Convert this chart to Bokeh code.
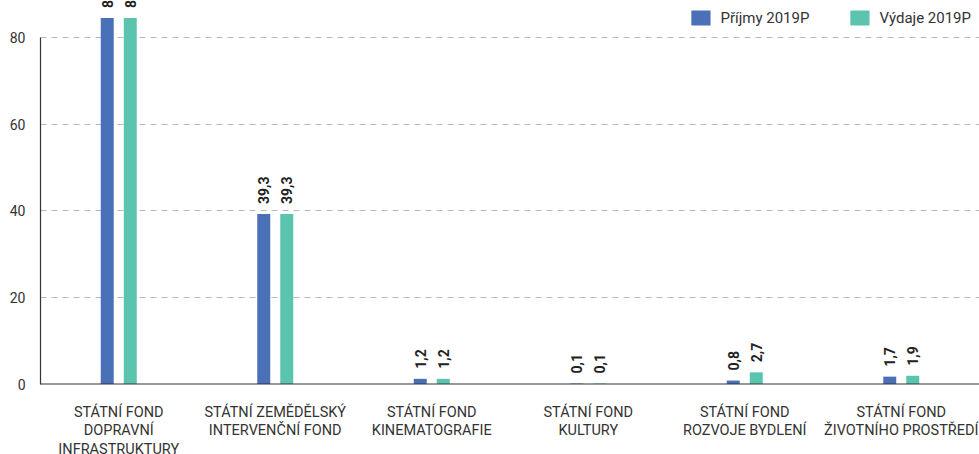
import math
from bokeh.plotting import figure
from bokeh.models import (ColumnDataSource, Range1d, FixedTicker, Legend, LegendItem, Span)
from bokeh.transform import dodge
from bokeh.core.properties import value
from bokeh.embed import file_html
from bokeh.resources import INLINE

categories = [
    "STÁTNÍ FOND\nDOPRAVNÍ\nINFRASTRUKTURY",
    "STÁTNÍ ZEMĚDĚLSKÝ\nINTERVENČNÍ FOND",
    "STÁTNÍ FOND\nKINEMATOGRAFIE",
    "STÁTNÍ FOND\nKULTURY",
    "STÁTNÍ FOND\nROZVOJE BYDLENÍ",
    "STÁTNÍ FOND\nŽIVOTNÍHO PROSTŘEDÍ",
]
prijmy = [84.6, 39.3, 1.2, 0.1, 0.8, 1.7]
vydaje = [84.6, 39.3, 1.2, 0.1, 2.7, 1.9]
series_names = ["Příjmy 2019P", "Výdaje 2019P"]
y_ticks = [0, 20, 40, 60, 80]

BLUE = "#4a70b8"
TEAL = "#5bc4ae"
FONT = "Roboto"
TXT = "#333333"

def fmt(v):
    return f"{v:.1f}".replace(".", ",")

src = ColumnDataSource(dict(
    cat=categories,
    prijmy=prijmy,
    vydaje=vydaje,
    base=[0] * len(categories),
    lab_p=[fmt(v) for v in prijmy],
    lab_v=[fmt(v) for v in vydaje],
))

p = figure(
    x_range=categories,
    y_range=Range1d(-16.3, 88.67),
    width=979, height=454,
    output_backend="svg", toolbar_location=None,
    x_axis_location=None,
    min_border_left=40, min_border_right=0, min_border_top=0, min_border_bottom=0,
)
p.outline_line_color = None
p.background_fill_color = "white"

off = 0.0735
bw = 0.083
r1 = p.vbar(x=dodge("cat", -off, range=p.x_range), top="prijmy", width=bw,
            source=src, fill_color=BLUE, line_color=None)
r2 = p.vbar(x=dodge("cat", off, range=p.x_range), top="vydaje", width=bw,
            source=src, fill_color=TEAL, line_color=None)

for col, lab, sgn in (("prijmy", "lab_p", -1), ("vydaje", "lab_v", 1)):
    p.text(x=dodge("cat", sgn * off, range=p.x_range), y=col, text=lab, source=src,
           angle=math.pi / 2, text_align="left", text_baseline="middle",
           y_offset=-10, text_font=value(FONT), text_font_size="14px",
           text_font_style="bold", text_color="#222222")

# category labels under the baseline
p.text(x="cat", y="base", text="cat", source=src,
       text_align="center", text_baseline="top", y_offset=20,
       text_font=value(FONT), text_font_size="14.5px", text_color=TXT,
       text_line_height=1.08)

# x axis line at zero
p.add_layout(Span(location=0, dimension="width", line_color="#333333", line_width=1.2))

p.yaxis.ticker = FixedTicker(ticks=y_ticks)
p.yaxis.bounds = (0, 80)
p.yaxis.major_label_text_font = FONT
p.yaxis.major_label_text_font_size = "14px"
p.yaxis.major_label_text_color = TXT
p.yaxis.major_label_standoff = 15
p.yaxis.major_tick_line_color = None
p.yaxis.major_tick_out = 0
p.yaxis.major_tick_in = 0
p.yaxis.minor_tick_line_color = None
p.yaxis.axis_line_color = "#333333"
p.yaxis.axis_line_width = 1.2

p.xgrid.grid_line_color = None
p.ygrid.ticker = FixedTicker(ticks=y_ticks[1:])
p.ygrid.grid_line_color = "#b8b8b8"
p.ygrid.grid_line_dash = "6 5"
p.ygrid.grid_line_width = 1

legend = Legend(
    items=[LegendItem(label=series_names[0], renderers=[r1]),
           LegendItem(label=series_names[1], renderers=[r2])],
    orientation="horizontal", location="top_right",
    border_line_color=None, background_fill_alpha=0,
    padding=0, margin=8, spacing=38, label_standoff=8,
    glyph_width=24, glyph_height=19, label_height=19,
    label_text_font=FONT, label_text_font_size="15px", label_text_color=TXT,
)
p.add_layout(legend)

open("out.html", "w").write(file_html(p, INLINE))
